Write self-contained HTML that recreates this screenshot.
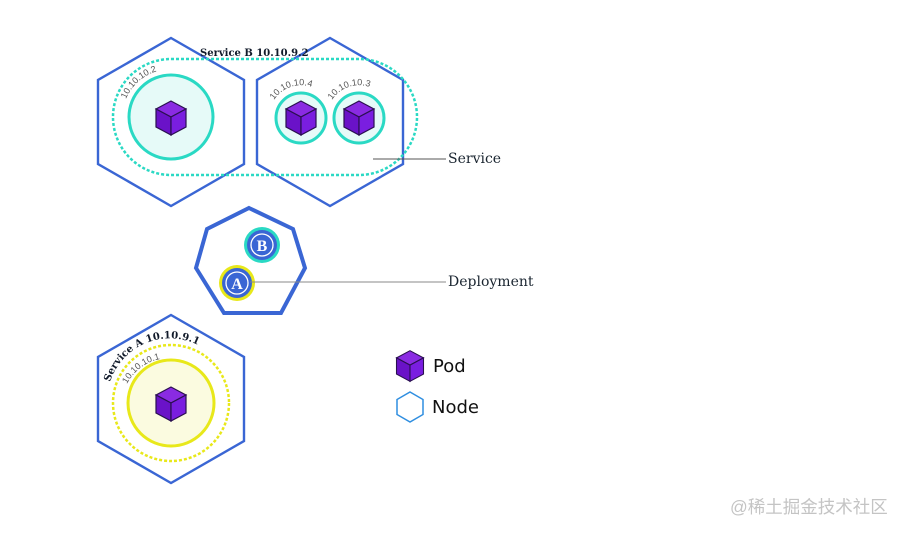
<!DOCTYPE html>
<html><head><meta charset="utf-8"><style>
html,body{margin:0;padding:0;background:#fff;width:908px;height:533px;overflow:hidden}
svg{display:block}
.lbl{font-family:"DejaVu Serif",serif;font-size:14px;fill:#1a2530}
.ip{font-family:"Liberation Sans",sans-serif;font-size:9px;fill:#555}
.svc{font-family:"DejaVu Serif",serif;font-size:10px;font-weight:bold;fill:#111a2a}
</style></head><body>
<svg width="908" height="533" viewBox="0 0 908 533" xmlns="http://www.w3.org/2000/svg">
<defs>
<g id="cube">
<polygon points="0,-17 -15,-9 0,-1 15,-9" fill="#8a2be2" stroke="#2a1050" stroke-width="1.2"/>
<polygon points="-15,-9 0,-1 0,17 -15,9" fill="#6a12c8" stroke="#2a1050" stroke-width="1.2"/>
<polygon points="15,-9 0,-1 0,17 15,9" fill="#7a1ee0" stroke="#2a1050" stroke-width="1.2"/>
</g>
<path id="pA" d="M110,382 A63,63 0 0 1 200,346"/>
<path id="pA2" d="M127,384 A48,48 0 0 1 160,359"/>
<path id="pB2" d="M126,99 A48,48 0 0 1 158,71"/>
<path id="p4" d="M274,100 A32,32 0 0 1 314,88"/>
<path id="p3" d="M332,100 A32,32 0 0 1 372,88"/>
</defs>
<polygon points="171,38 244,80 244,164 171,206 98,164 98,80" fill="#fff" stroke="#3a66d4" stroke-width="2.4"/>
<polygon points="330,38 403,80 403,164 330,206 257,164 257,80" fill="#fff" stroke="#3a66d4" stroke-width="2.4"/>
<rect x="113" y="59" width="304" height="116" rx="58" fill="none" stroke="#2ad9c4" stroke-width="2.5" stroke-dasharray="3,2"/>
<circle cx="171" cy="117" r="42" fill="#e6faf8" stroke="#2ad9c4" stroke-width="3"/>
<circle cx="301" cy="118" r="25" fill="#e6faf8" stroke="#2ad9c4" stroke-width="3"/>
<circle cx="359" cy="118" r="25" fill="#e6faf8" stroke="#2ad9c4" stroke-width="3"/>
<use href="#cube" x="171" y="118"/>
<use href="#cube" x="301" y="118"/>
<use href="#cube" x="359" y="118"/>
<text class="svc" x="200" y="56">Service B 10.10.9.2</text>
<text class="ip"><textPath href="#pB2">10.10.10.2</textPath></text>
<text class="ip"><textPath href="#p4">10.10.10.4</textPath></text>
<text class="ip"><textPath href="#p3">10.10.10.3</textPath></text>
<line x1="373" y1="159" x2="446" y2="159" stroke="#555" stroke-width="1"/>
<text class="lbl" x="448" y="163">Service</text>
<polygon points="249,208 293,229 305,268 281,313 224,313 196,268 207,229" fill="#fff" stroke="#3a66d4" stroke-width="4"/>
<circle cx="262" cy="245" r="18" fill="#2ad9c4"/>
<circle cx="262" cy="245" r="15" fill="#3a66d4"/>
<circle cx="262" cy="245" r="11" fill="none" stroke="#fff" stroke-width="1.3"/>
<text x="262" y="251" text-anchor="middle" font-family="Liberation Serif,serif" font-weight="bold" font-size="16" fill="#fff">B</text>
<circle cx="237" cy="283" r="18" fill="#e8e81a"/>
<circle cx="237" cy="283" r="15" fill="#3a66d4"/>
<circle cx="237" cy="283" r="11" fill="none" stroke="#fff" stroke-width="1.3"/>
<text x="237" y="289" text-anchor="middle" font-family="Liberation Serif,serif" font-weight="bold" font-size="16" fill="#fff">A</text>
<line x1="250" y1="282" x2="446" y2="282" stroke="#888" stroke-width="1"/>
<text class="lbl" x="448" y="286">Deployment</text>
<polygon points="171,315 244,357 244,441 171,483 98,441 98,357" fill="#fff" stroke="#3a66d4" stroke-width="2.4"/>
<circle cx="171" cy="403" r="58" fill="none" stroke="#e8e81a" stroke-width="2.5" stroke-dasharray="3,2"/>
<circle cx="171" cy="403" r="43" fill="#fbfbe0" stroke="#e8e81a" stroke-width="3"/>
<use href="#cube" x="171" y="404"/>
<text class="svc"><textPath href="#pA">Service A  10.10.9.1</textPath></text>
<text class="ip"><textPath href="#pA2">10.10.10.1</textPath></text>
<use href="#cube" transform="translate(410,366) scale(0.9)"/>
<text x="433" y="372" font-family="DejaVu Sans,sans-serif" font-size="18" fill="#111">Pod</text>
<polygon points="410,392 423,399.5 423,414.5 410,422 397,414.5 397,399.5" fill="#fff" stroke="#2f8ee0" stroke-width="1.5"/>
<text x="432" y="413" font-family="DejaVu Sans,sans-serif" font-size="18" fill="#111">Node</text>
<text x="730" y="513" font-family="'Liberation Sans','Noto Sans CJK SC',sans-serif" font-size="17.5" fill="#c4c4c4">@稀土掘金技术社区</text>
</svg>
</body></html>
